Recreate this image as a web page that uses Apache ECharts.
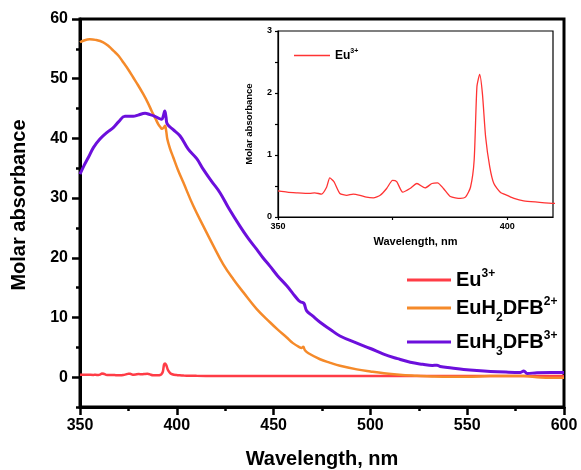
<!DOCTYPE html>
<html>
<head>
<meta charset="utf-8">
<script src="https://cdn.jsdelivr.net/npm/echarts@6/dist/echarts.min.js"></script>
<style>html,body{margin:0;padding:0;background:#fff;}#c{width:581px;height:470px;}</style>
</head>
<body>
<div id="c"></div>
<script>
// Eu3+ (shared by main plot and inset)
const euWave = [350,352,354,356.9,358,359.5,360.6,361.3,362.2,363.5,365,366.4,367.9,369.3,370.8,372.3,373.7,375,375.9,377.2,378.8,380.3,382.1,383.6,384.8,386.1,387.6,389.8,390.9,392,392.8,393.4,394,394.6,395.3,396.2,397.1,398.5,400,401.5,403.6,406.6,410.2,420,450,500,550,600];
const euAbs  = [0.42,0.40,0.39,0.38,0.39,0.37,0.48,0.63,0.57,0.38,0.35,0.37,0.35,0.32,0.31,0.35,0.46,0.59,0.57,0.40,0.46,0.54,0.47,0.54,0.55,0.46,0.33,0.30,0.32,0.48,0.92,2.1,2.30,1.99,1.29,0.81,0.54,0.40,0.35,0.30,0.26,0.24,0.22,0.21,0.2,0.2,0.2,0.2];
// EuH2DFB2+
const h2Wave = [350,352,355,358,362,365,367.2,370,372.4,375,377.5,380,382.7,385,387,389,390.4,391.5,392.3,393.2,393.9,394.5,395.1,396.5,398.2,400.5,403.4,408.5,413.7,418.9,424,429.2,434.4,441.3,448.1,452,456.8,460,463.5,464.5,465.3,466.2,468,474,479.3,484.3,493,500,507,515,524,532,541,550,562,570,579,588,600];
const h2Abs  = [56.1,56.4,56.6,56.5,56.1,55.4,54.7,53.8,52.7,51.5,50.2,48.9,47.4,46.0,44.6,43.3,42.4,41.9,41.6,41.8,42.1,41.3,39.9,38.3,36.8,34.8,32.6,28.7,25.3,22.0,18.9,16.4,14.2,11.4,9.2,8.0,6.65,5.7,5.0,4.9,5.1,4.5,4.0,3.0,2.4,1.9,1.3,0.95,0.65,0.42,0.25,0.12,0.05,0.05,0.2,0.2,0.2,-0.05,-0.1];
// EuH3DFB3+
const h3Wave = [350,352,354.3,357,360.3,364,367.2,370,373.2,377.5,380,383.6,386,388.7,390.5,392.2,393,393.8,394.4,395.1,398,401.7,405.9,410.3,413.7,418,422.3,427,432.6,437,441.3,444.5,448.1,452,456.8,460,462.8,464,465,465.8,467.1,470,474,479.3,484.3,493,500,506.8,514,520.6,527,532,534.4,536,542,548.2,555,562,570,577.5,579.2,581,586,593,600];
const h3Abs  = [34.0,35.4,36.8,38.5,39.9,41.0,41.8,42.8,43.7,43.7,43.9,44.2,44.0,43.7,43.4,43.2,43.7,44.6,43.6,42.4,41.5,40.4,38.2,36.6,34.8,32.8,30.9,28.2,25.3,23.2,21.4,20.0,18.6,17.0,15.3,14.0,12.9,12.6,12.5,12.3,11.1,10.3,9.2,8.0,6.9,5.7,4.8,3.85,3.1,2.5,2.15,1.95,2.0,1.8,1.55,1.3,1.1,0.95,0.85,0.8,1.05,0.6,0.75,0.8,0.8];

const mainXLabels = [350,400,450,500,550,600];
const mainXMinor = [375,425,475,525,575];
const mainYLabels = [0,10,20,30,40,50,60];
const mainYMinor = [-5,5,15,25,35,45,55];
const insetXLabels = [350,400];
const insetXTicks = [350,375,400];

const seriesNames = ['Eu3+','EuH2DFB2+','EuH3DFB3+'];
const legendRich = {
  'Eu3+': '{n|Eu}{sup|3+}',
  'EuH2DFB2+': '{n|EuH}{sub|2}{n|DFB}{sup|2+}',
  'EuH3DFB3+': '{n|EuH}{sub|3}{n|DFB}{sup|3+}',
  'Eu3+ inset': '{n|Eu}{sup|3+}'
};
const colors = ['#ff3c46','#f58a2a','#6c0fdc'];

const zip = (a,b) => a.map((v,i)=>[v,b[i]]);
const FONT = 'Liberation Sans, Arial, sans-serif';

const chart = echarts.init(document.getElementById('c'), null, {renderer:'canvas'});
chart.setOption({
  animation: false,
  backgroundColor: '#fff',
  textStyle: {fontFamily: FONT, color:'#000'},
  grid: [
    {left:80, top:19, right:17, bottom:63, show:true, borderColor:'#000', borderWidth:3, backgroundColor:'#fff', outerBoundsMode:'none', containLabel:false},
    {left:278, top:31, right:28, bottom:253, show:true, borderColor:'#000', borderWidth:1.2, backgroundColor:'#fff', outerBoundsMode:'none', containLabel:false}
  ],
  legend: [
    {
      data: seriesNames, orient:'vertical', left:402, top:263, itemGap:6,
      icon:'rect', itemWidth:44, itemHeight:3, selectedMode:false,
      formatter: n => legendRich[n],
      textStyle: {
        color:'#000', fontFamily: FONT,
        rich: {
          n: {fontSize:20, fontWeight:'bold', fontFamily:FONT, lineHeight:24, verticalAlign:'middle', color:'#000'},
          sup: {fontSize:12, fontWeight:'bold', fontFamily:FONT, lineHeight:14, verticalAlign:'top', color:'#000'},
          sub: {fontSize:12, fontWeight:'bold', fontFamily:FONT, lineHeight:12, verticalAlign:'bottom', color:'#000', padding:[0,0,-4,0]}
        }
      }
    },
    {
      data: ['Eu3+ inset'], orient:'vertical', left:289, top:43,
      icon:'rect', itemWidth:36, itemHeight:1.5, selectedMode:false,
      formatter: n => legendRich[n],
      textStyle: {
        color:'#000', fontFamily: FONT,
        rich: {
          n: {fontSize:12, fontWeight:'bold', fontFamily:FONT, lineHeight:15, verticalAlign:'middle', color:'#000'},
          sup: {fontSize:7, fontWeight:'bold', fontFamily:FONT, lineHeight:9, verticalAlign:'top', color:'#000'}
        }
      }
    }
  ],
  xAxis: [
    {
      gridIndex:0, type:'value', min:350, max:600, position:'bottom',
      axisLine:{show:true, onZero:false, lineStyle:{color:'#000', width:3}},
      axisTick:{show:true, customValues: mainXLabels, length:8, lineStyle:{color:'#000', width:2.5}},
      axisLabel:{customValues: mainXLabels, margin:11, fontSize:16, fontWeight:'bold', color:'#000', fontFamily:FONT},
      splitLine:{show:false},
      name:'Wavelength, nm', nameLocation:'middle', nameGap:42,
      nameTextStyle:{fontSize:20, fontWeight:'bold', color:'#000', fontFamily:FONT}
    },
    {
      gridIndex:0, type:'value', min:350, max:600, position:'bottom',
      axisLine:{show:false, onZero:false},
      axisTick:{show:true, customValues: mainXMinor, length:4, lineStyle:{color:'#000', width:2.5}},
      axisLabel:{show:false}, splitLine:{show:false}
    },
    {
      gridIndex:1, type:'value', min:350, max:410, position:'bottom',
      axisLine:{show:true, onZero:false, lineStyle:{color:'#000', width:1.2}},
      axisTick:{show:true, customValues: insetXTicks, length:3, lineStyle:{color:'#000', width:1.2}},
      axisLabel:{customValues: insetXLabels, margin:5, fontSize:9, fontWeight:'bold', color:'#000', fontFamily:FONT},
      splitLine:{show:false},
      name:'Wavelength, nm', nameLocation:'middle', nameGap:19,
      nameTextStyle:{fontSize:11, fontWeight:'bold', color:'#000', fontFamily:FONT}
    }
  ],
  yAxis: [
    {
      gridIndex:0, type:'value', min:-5, max:60, position:'left',
      axisLine:{show:true, onZero:false, lineStyle:{color:'#000', width:3}},
      axisTick:{show:true, customValues: mainYLabels, length:8, lineStyle:{color:'#000', width:2.5}},
      axisLabel:{customValues: mainYLabels, margin:12, fontSize:16, fontWeight:'bold', color:'#000', fontFamily:FONT},
      splitLine:{show:false},
      name:'Molar absorbance', nameLocation:'middle', nameGap:51,
      nameTextStyle:{fontSize:20, fontWeight:'bold', color:'#000', fontFamily:FONT, padding:[0,0,0,16]}
    },
    {
      gridIndex:0, type:'value', min:-5, max:60, position:'left',
      axisLine:{show:false, onZero:false},
      axisTick:{show:true, customValues: mainYMinor, length:4, lineStyle:{color:'#000', width:2.5}},
      axisLabel:{show:false}, splitLine:{show:false}
    },
    {
      gridIndex:1, type:'value', min:0, max:3, interval:0.5, position:'left',
      axisLine:{show:true, onZero:false, lineStyle:{color:'#000', width:1.2}},
      axisTick:{show:true, length:3, lineStyle:{color:'#000', width:1.2}},
      axisLabel:{margin:6, fontSize:9, fontWeight:'bold', color:'#000', fontFamily:FONT,
        formatter: v => (Math.abs(v - Math.round(v)) < 1e-6 ? String(Math.round(v)) : '')},
      splitLine:{show:false},
      name:'Molar absorbance', nameLocation:'middle', nameGap:24,
      nameTextStyle:{fontSize:9.5, fontWeight:'bold', color:'#000', fontFamily:FONT}
    }
  ],
  series: [
    {name:'Eu3+', type:'line', xAxisIndex:0, yAxisIndex:0, data: zip(euWave, euAbs), showSymbol:false, smooth:0.2,
      lineStyle:{color:colors[0], width:2.5}, itemStyle:{color:colors[0]}, z:2},
    {name:'EuH2DFB2+', type:'line', xAxisIndex:0, yAxisIndex:0, data: zip(h2Wave, h2Abs), showSymbol:false, smooth:0.4,
      lineStyle:{color:colors[1], width:2.5}, itemStyle:{color:colors[1]}, z:3},
    {name:'EuH3DFB3+', type:'line', xAxisIndex:0, yAxisIndex:0, data: zip(h3Wave, h3Abs), showSymbol:false, smooth:0.4,
      lineStyle:{color:colors[2], width:3}, itemStyle:{color:colors[2]}, z:4},
    {name:'Eu3+ inset', type:'line', xAxisIndex:2, yAxisIndex:2, data: zip(euWave, euAbs), showSymbol:false, smooth:0.2,
      clip:true, lineStyle:{color:'#ff3333', width:1.3}, itemStyle:{color:'#ff3333'}, z:5}
  ]
});
</script>
</body>
</html>
